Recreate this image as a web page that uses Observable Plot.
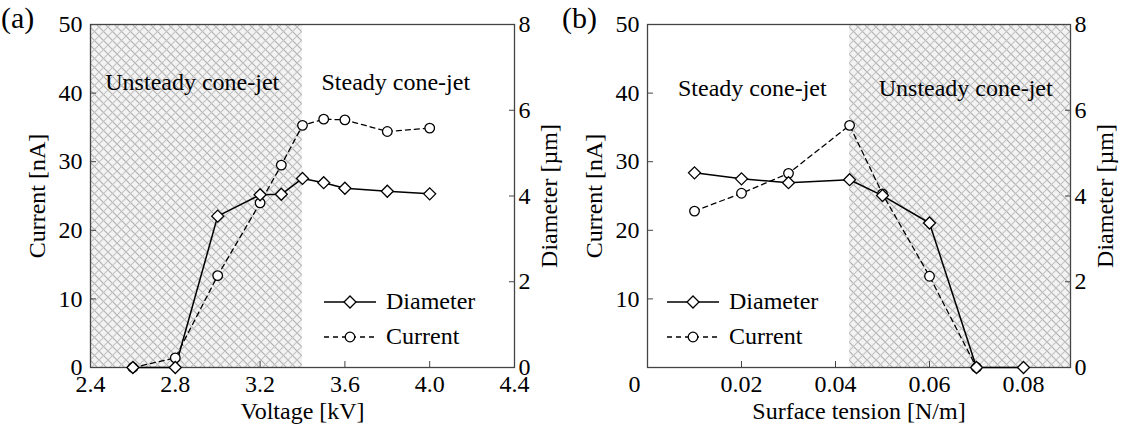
<!DOCTYPE html>
<html><head><meta charset="utf-8">
<script src="https://cdn.jsdelivr.net/npm/d3@7"></script>
<script src="https://cdn.jsdelivr.net/npm/@observablehq/plot@0.6"></script>
<style>
body{margin:0;background:#fff;font-family:"Liberation Serif",serif;}
#wrap{display:flex;width:1122px;height:426px;}
.panel{position:relative;width:561px;height:426px;}
.panel svg{display:block;}
.panel svg, .panel svg text{font-family:"Liberation Serif",serif !important;}
.tag{position:absolute;top:0px;left:1px;font-size:30px;line-height:36px;}
.legend{position:absolute;font-size:24px;line-height:35px;}
.legend div{display:flex;align-items:center;height:35px;}
.legend svg{margin-right:10px;}
</style></head><body><div id="wrap"></div><script>
// ---- data ----
const voltageKV   = [2.6, 2.8, 3.0, 3.2, 3.3, 3.4, 3.5, 3.6, 3.8, 4.0];
const diameterA   = [0, 0, 3.53, 4.03, 4.04, 4.41, 4.31, 4.18, 4.11, 4.05];
const currentA    = [0, 1.4, 13.4, 24.0, 29.5, 35.3, 36.2, 36.1, 34.4, 34.9];
const tensionNm   = [0.01, 0.02, 0.03, 0.043, 0.05, 0.06, 0.07, 0.08];
const diameterB   = [4.54, 4.40, 4.31, 4.38, 4.01, 3.37, 0, 0];
const tensionCurNm = [0.01, 0.02, 0.03, 0.043, 0.05, 0.06, 0.07];
const currentB    = [22.8, 25.4, 28.3, 35.3, 25.3, 13.3, 0];
const voltageTicks = [2.4, 2.8, 3.2, 3.6, 4.0, 4.4];
const tensionTicks = [0.02, 0.04, 0.06, 0.08];
const currentTicksA = [0, 10, 20, 30, 40, 50];
const currentTicksB = [10, 20, 30, 40, 50];
const diameterTicks = [0, 2, 4, 6, 8];
const regionA = [{x1: 2.4, x2: 3.4}];
const regionB = [{x1: 0.043, x2: 0.09}];
const labelsA = [{x: 2.88, y: 41.5, text: "Unsteady cone-jet"}, {x: 3.84, y: 41.5, text: "Steady cone-jet"}];
const labelsB = [{x: 0.0223, y: 40.7, text: "Steady cone-jet"}, {x: 0.0677, y: 40.7, text: "Unsteady cone-jet"}];
const diamMax = 8, curMax = 50;
const k = curMax / diamMax;

const rowsA = voltageKV.map((v, i) => ({x: v, d: diameterA[i], c: currentA[i]}));
const rowsBd = tensionNm.map((v, i) => ({x: v, d: diameterB[i]}));
const rowsBc = tensionCurNm.map((v, i) => ({x: v, c: currentB[i]}));

function hatchDefs(svg, id) {
  const ns = "http://www.w3.org/2000/svg";
  const defs = document.createElementNS(ns, "defs");
  defs.innerHTML = `<pattern id="${id}" patternUnits="userSpaceOnUse" width="9" height="9">
    <rect width="9" height="9" fill="#f3f3f3"/>
    <path d="M0,0L9,9M-1,8L1,10M8,-1L10,1" stroke="#b0b0b0" stroke-width="1.1"/>
    <path d="M0,9L9,0M-1,1L1,-1M8,10L10,8" stroke="#c4c4c4" stroke-width="1.1"/>
  </pattern>`;
  svg.insertBefore(defs, svg.firstChild);
}

function makePanel(opts) {
  const {rowsD, rowsC, region, labels, xDomain, xTicks, xFmt, yTicks, xLabel, mL, mR, hatchId} = opts;
  const svg = Plot.plot({
    width: 561, height: 426,
    marginLeft: mL, marginRight: mR, marginTop: 24, marginBottom: 59,
    style: {fontFamily: "'Liberation Serif', serif", fontSize: "24px", color: "#000", background: "transparent", overflow: "visible"},
    x: {domain: xDomain},
    y: {domain: [0, curMax]},
    marks: [
      Plot.rect(region, {x1: "x1", x2: "x2", y1: 0, y2: curMax, fill: `url(#${hatchId})`}),
      Plot.axisX(xTicks, {tickSize: -6, tickPadding: 13, tickFormat: xFmt, stroke: "#444", label: xLabel, labelAnchor: "center", labelArrow: "none", labelOffset: 51, fontSize: 24}),
      Plot.axisY(yTicks, {anchor: "left", tickSize: -6, tickPadding: 14, stroke: "#444", label: "Current [nA]", labelAnchor: "center", labelArrow: "none", labelOffset: 63, fontSize: 24}),
      Plot.axisY(diameterTicks.map(d => d * k), {anchor: "right", tickSize: -6, tickPadding: 10, stroke: "#444", tickFormat: v => String(Math.round(v / k)), label: "Diameter [µm]", labelAnchor: "center", labelArrow: "none", labelOffset: 42, fontSize: 24}),
      Plot.frame({stroke: "#444", strokeWidth: 1.3}),
      Plot.text(labels, {x: "x", y: "y", text: "text", fontSize: 24, fill: "#000"}),
      Plot.line(rowsC, {x: "x", y: "c", stroke: "#000", strokeWidth: 1.3, strokeDasharray: "5,4"}),
      Plot.line(rowsD, {x: "x", y: d => d.d * k, stroke: "#000", strokeWidth: 1.5}),
      Plot.dot(rowsC, {x: "x", y: "c", r: 4.8, fill: "white", stroke: "#000", strokeWidth: 1.3}),
      Plot.dot(rowsD, {x: "x", y: d => d.d * k, symbol: "diamond2", r: 5.4, fill: "white", stroke: "#000", strokeWidth: 1.3}),
      ...(opts.extra || [])
    ]
  });
  hatchDefs(svg, hatchId);
  return svg;
}

function legend(left, top) {
  const el = document.createElement("div");
  el.className = "legend";
  el.style.left = left + "px"; el.style.top = top + "px";
  el.innerHTML = `<div><svg width="52" height="16"><line x1="0" y1="8" x2="52" y2="8" stroke="#000" stroke-width="1.5"/><path d="M26,2L32,8L26,14L20,8Z" fill="#fff" stroke="#000" stroke-width="1.3"/></svg>Diameter</div>
  <div><svg width="52" height="16"><line x1="0" y1="8" x2="52" y2="8" stroke="#000" stroke-width="1.3" stroke-dasharray="5,4"/><circle cx="26" cy="8" r="4.8" fill="#fff" stroke="#000" stroke-width="1.3"/></svg>Current</div>`;
  return el;
}

const wrap = document.getElementById("wrap");
const pa = document.createElement("div"); pa.className = "panel";
pa.appendChild(makePanel({rowsD: rowsA, rowsC: rowsA, region: regionA, labels: labelsA, xDomain: [2.4, 4.4], xTicks: voltageTicks, xFmt: d => d.toFixed(1), yTicks: currentTicksA, xLabel: "Voltage [kV]", mL: 90, mR: 47, hatchId: "hatchA"}));
const ta = document.createElement("div"); ta.className = "tag"; ta.textContent = "(a)"; pa.appendChild(ta);
pa.appendChild(legend(324, 284));
wrap.appendChild(pa);

const pb = document.createElement("div"); pb.className = "panel";
pb.appendChild(makePanel({rowsD: rowsBd, rowsC: rowsBc, region: regionB, labels: labelsB, xDomain: [0, 0.09], xTicks: tensionTicks, xFmt: d => String(d), yTicks: currentTicksB, xLabel: "Surface tension [N/m]", mL: 86, mR: 52, hatchId: "hatchB",
  extra: [Plot.text([0], {x: d => d, y: 0, text: d => String(d), frameAnchor: "bottom", dx: -13, dy: 7, lineAnchor: "top", fontSize: 24})]}));
const tb = document.createElement("div"); tb.className = "tag"; tb.textContent = "(b)"; pb.appendChild(tb);
pb.appendChild(legend(667 - 561, 284));
wrap.appendChild(pb);
</script></body></html>
